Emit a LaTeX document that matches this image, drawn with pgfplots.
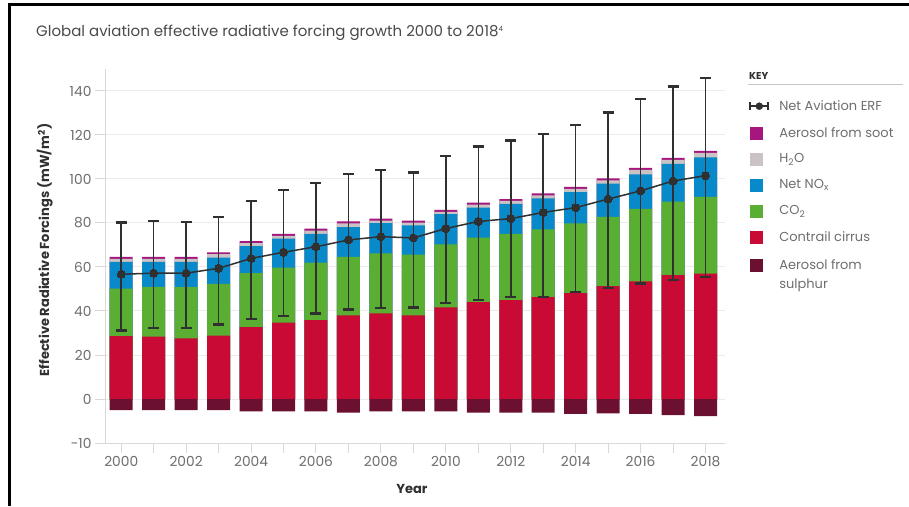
\documentclass[border=0pt]{standalone}
\usepackage{fontspec}
\setmainfont{Poppins}
\usepackage{pgfplots}
\pgfplotsset{compat=1.18}
\usepackage{pgfplotstable}

\definecolor{cirrus}{HTML}{C80A34}
\definecolor{co2}{HTML}{5AAF32}
\definecolor{nox}{HTML}{0889C9}
\definecolor{htwo}{HTML}{CBC3C3}
\definecolor{soot}{HTML}{A5177F}
\definecolor{sulph}{HTML}{6B1030}
\definecolor{ink}{HTML}{303030}
\definecolor{tickc}{HTML}{6E6E6E}
\definecolor{gridc}{HTML}{EEEAEA}
\definecolor{axisc}{HTML}{DDD6D6}
\definecolor{titlec}{HTML}{4A4A4A}

% cumulative tops of each stacked layer
\pgfplotstableread{
year sul cir co2 nox h2o soot
2000 -5.1 28.6 50.2 62.3 63.7 64.6
2001 -5.1 28.3 51.0 62.3 63.7 64.6
2002 -5.1 27.6 50.8 62.3 63.7 64.6
2003 -5.1 28.8 52.3 64.3 65.8 66.7
2004 -5.6 32.7 57.2 69.5 70.9 71.8
2005 -5.6 34.7 59.7 72.9 74.1 75.0
2006 -5.6 35.9 62.0 75.1 76.5 77.4
2007 -6.2 38.0 64.6 78.1 79.8 80.7
2008 -5.6 38.9 66.2 79.9 81.1 82.0
2009 -5.6 38.0 65.6 78.9 80.2 81.1
2010 -5.6 41.6 70.3 84.0 85.1 86.0
2011 -6.2 44.0 73.3 87.0 88.4 89.3
2012 -6.2 44.9 75.1 88.7 90.0 90.9
2013 -6.2 46.3 77.1 91.2 92.6 93.5
2014 -6.8 48.1 79.8 94.0 95.5 96.4
2015 -6.5 51.3 82.8 97.9 99.4 100.3
2016 -6.8 53.5 86.4 102.1 104.1 105.0
2017 -7.3 56.3 89.7 106.9 108.7 109.6
2018 -7.8 57.0 91.9 109.8 111.9 112.8
}\bars

\pgfplotstableread{
year net lo hi
2000 56.7 31.2 80.2
2001 57.2 32.4 80.8
2002 57.2 32.4 80.5
2003 59.4 33.9 82.7
2004 63.9 36.3 90.0
2005 66.7 37.7 94.9
2006 69.2 38.9 98.2
2007 72.3 40.6 102.4
2008 73.8 41.3 104.2
2009 73.2 41.5 102.9
2010 77.5 43.7 110.4
2011 80.7 44.9 114.8
2012 82.0 46.3 117.5
2013 84.8 46.3 120.5
2014 87.0 48.6 124.6
2015 90.9 50.4 130.3
2016 94.6 52.5 136.3
2017 99.1 54.2 142.1
2018 101.5 55.5 146.0
}\erf

\pgfplotsset{
  sq/.style={legend image code/.code={\fill[#1] (0pt,-6pt) rectangle (12pt,6pt);}},
  barsty/.style={ybar, bar width=23pt, bar shift=0pt, draw=none, fill=#1, forget plot},
}

\begin{document}
\begin{tikzpicture}
\useasboundingbox (0,0) rectangle (909pt,506pt);
\fill[white] (0,0) rectangle (909pt,506pt);
\draw[black, line width=3pt] (9.5pt,0pt) -- (9.5pt,501pt) -- (909pt,501pt);
\node[anchor=west, font=\fontsize{15}{15}\selectfont, text=titlec, inner sep=0pt] at (36pt,473pt)
  {Global aviation effective radiative forcing growth 2000 to 2018\raisebox{5pt}{\fontsize{7}{7}\selectfont 4}};

\begin{axis}[
  at={(105pt,63pt)}, anchor=south west,
  scale only axis, width=620pt, height=374pt,
  xmin=1999.5, xmax=2018.6, ymin=-20, ymax=150,
  axis x line*=bottom, axis y line*=left,
  axis line style={draw=axisc, line width=1pt, -},
  ytick={-20,0,20,40,60,80,100,120,140},
  yticklabels={-10,0,20,40,60,80,100,120,140},
  xtick={2000,2001,...,2018},
  xticklabels={2000,,2002,,2004,,2006,,2008,,2010,,2012,,2014,,2016,,2018},
  tick align=outside, major tick length=10pt,
  tick style={draw=axisc, line width=1pt},
  ymajorgrids, grid style={draw=gridc, line width=1pt},
  tick label style={font=\fontsize{13.8}{14}\selectfont, text=tickc},
  ylabel={Effective Radiative Forcings (mW/m\textsuperscript{2})},
  ylabel style={font=\bfseries\fontsize{13}{13}\selectfont, text=ink,
    at={(axis description cs:-0.097,0.516)}, anchor=center},
  xlabel={Year},
  xlabel style={font=\bfseries\fontsize{13}{13}\selectfont, text=ink,
    at={(axis description cs:0.495,-0.123)}, anchor=center},
  legend style={at={(axis description cs:1.034,0.927)}, anchor=north west,
    draw=none, fill=none, font=\fontsize{13}{19}\selectfont, text=tickc,
    row sep=11.2pt, column sep=8pt, nodes={align=left}},
  legend cell align=left,
]
\addlegendimage{legend image code/.code={
  \draw[ink, line width=1.5pt] (0pt,0pt) -- (18pt,0pt);
  \draw[ink, line width=2pt] (0pt,-4pt) -- (0pt,4pt);
  \draw[ink, line width=2pt] (18pt,-4pt) -- (18pt,4pt);
  \fill[ink] (9pt,0pt) circle (3.5pt);}}
\addlegendentry{Net Aviation ERF}
\addlegendimage{sq=soot}\addlegendentry{Aerosol from soot}
\addlegendimage{sq=htwo}\addlegendentry{H\textsubscript{2}O}
\addlegendimage{sq=nox}\addlegendentry{Net NO\textsubscript{x}}
\addlegendimage{sq=co2}\addlegendentry{CO\textsubscript{2}}
\addlegendimage{sq=cirrus}\addlegendentry{Contrail cirrus}
\addlegendimage{legend image code/.code={
  \fill[sulph] (0pt,3.5pt) rectangle (12pt,15.5pt);
  \path (6pt,-18.5pt) coordinate (dummyA) (6pt,18.5pt) coordinate (dummyB);}}
\addlegendentry{Aerosol from\\sulphur}

\addplot[barsty=soot] table[x=year,y=soot]{\bars};
\addplot[barsty=htwo] table[x=year,y=h2o]{\bars};
\addplot[barsty=nox] table[x=year,y=nox]{\bars};
\addplot[barsty=co2] table[x=year,y=co2]{\bars};
\addplot[barsty=cirrus] table[x=year,y=cir]{\bars};
\addplot[barsty=sulph] table[x=year,y=sul]{\bars};

\addplot[ink, line width=1.5pt, mark=*, mark size=4pt,
  mark options={fill=ink, draw=ink, line width=0pt}, forget plot,
  error bars/.cd, y dir=both, y explicit,
  error bar style={line width=1.6pt, ink},
  error mark options={rotate=90, line width=2.4pt, mark size=5.5pt, ink}]
  table[x=year, y=net,
        y error plus expr=\thisrow{hi}-\thisrow{net},
        y error minus expr=\thisrow{net}-\thisrow{lo}]{\erf};
\end{axis}

\node[anchor=west, font=\bfseries\fontsize{10}{10}\selectfont, text=ink, inner sep=0pt] at (749pt,430pt) {KEY};
\draw[draw=axisc!80!gray, line width=1pt] (748pt,421pt) -- (903pt,421pt);
\end{tikzpicture}
\end{document}
